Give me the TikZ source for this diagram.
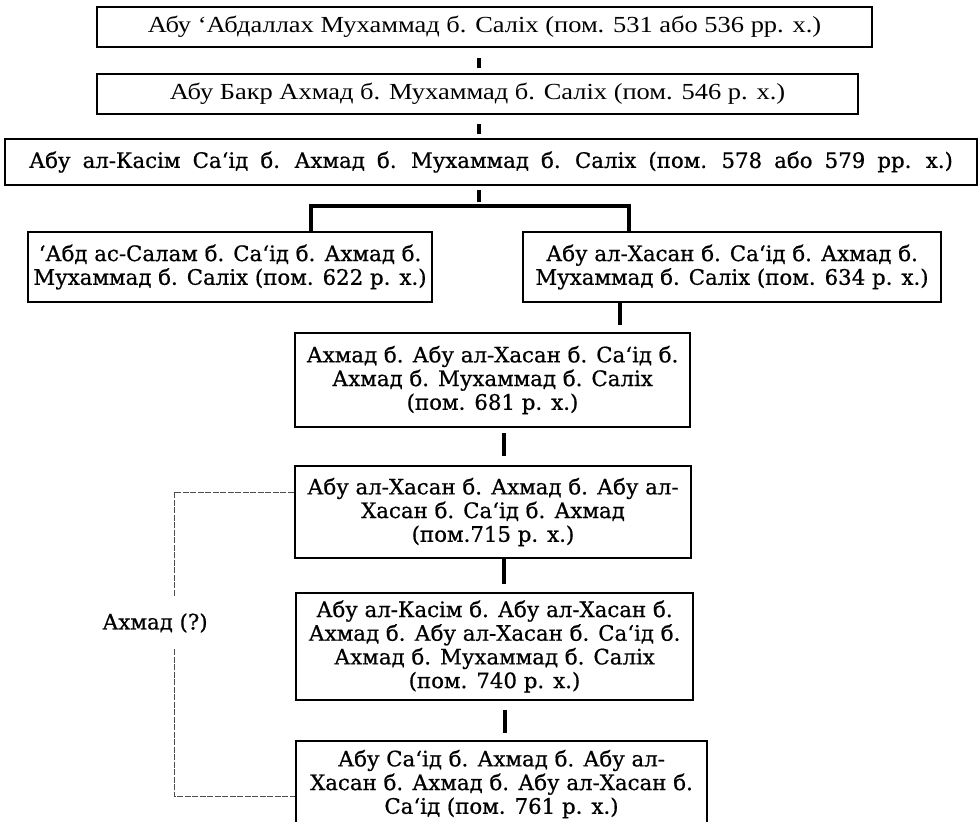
\documentclass[tikz,border=0pt]{standalone}
\usepackage{fontspec}
\setmainfont[FakeStretch=1.15]{Liberation Serif}
\newfontfamily\lowfont[FakeBold=0.7]{DejaVu Serif}
\newcommand\widespaces{\spaceskip=12.1pt\relax}

\begin{document}
\begin{tikzpicture}[x=1pt, y=-1pt,
    box/.style={draw, line width=2.5pt, inner sep=0pt, align=center},
    topfont/.style={font=\fontsize{23}{27}\selectfont},
    lowfont/.style={font=\lowfont\fontsize{21.3}{23.7}\selectfont},
    link/.style={line width=3.6pt},
    guess/.style={line width=0.9pt, gray!60!black, dash pattern=on 6pt off 1.5pt}]
    \useasboundingbox (0,0) rectangle (980,822);

    % first generations (one line each)
    \node[box, topfont, minimum width=775pt, minimum height=40pt] (abdallah) at (484.5,27)
        {Абу ‘Абдаллах Мухаммад б. Саліх (пом. 531 або 536 рр. х.)};
    \node[box, topfont, minimum width=761pt, minimum height=40pt] (abubakr) at (477.5,94)
        {Абу Бакр Ахмад б. Мухаммад б. Саліх (пом. 546 р. х.)};
    \node[box, lowfont, minimum width=972pt, minimum height=46pt] (qasim) at (491,162)
        {\widespaces Абу ал-Касім Са‘ід б. Ахмад б. Мухаммад б. Саліх (пом. 578 або 579 рр. х.)};

    % two sons
    \node[box, lowfont, minimum width=404pt, minimum height=70pt] (salam) at (230,267)
        {‘Абд ас-Салам б. Са‘ід б. Ахмад б.\\Мухаммад б. Саліх (пом. 622 р. х.)};
    \node[box, lowfont, minimum width=418pt, minimum height=70pt] (hasan) at (732,267)
        {Абу ал-Хасан б. Са‘ід б. Ахмад б.\\Мухаммад б. Саліх (пом. 634 р. х.)};

    % later line
    \node[box, lowfont, minimum width=395pt, minimum height=94pt] (ahmad) at (492.5,380)
        {Ахмад б. Абу ал-Хасан б. Са‘ід б.\\Ахмад б. Мухаммад б. Саліх\\(пом. 681 р. х.)};
    \node[box, lowfont, minimum width=396pt, minimum height=92pt] (hasantwo) at (493,512)
        {Абу ал-Хасан б. Ахмад б. Абу ал-\\Хасан б. Са‘ід б. Ахмад\\(пом.715 р. х.)};
    \node[box, lowfont, minimum width=397pt, minimum height=107pt] (qasimtwo) at (494.5,646.5)
        {Абу ал-Касім б. Абу ал-Хасан б.\\Ахмад б. Абу ал-Хасан б. Са‘ід б.\\Ахмад б. Мухаммад б. Саліх\\(пом. 740 р. х.)};
    \node[box, lowfont, minimum width=411pt, minimum height=86pt] (abusaid) at (501.5,784)
        {Абу Са‘ід б. Ахмад б. Абу ал-\\Хасан б. Ахмад б. Абу ал-Хасан б.\\Са‘ід (пом. 761 р. х.)};

    % doubtful link
    \node[lowfont, inner sep=0pt, minimum height=52pt] (guessname) at (155,623) {Ахмад (?)};

    % connectors
    \draw[link, shorten <=10pt, shorten >=5pt] ([xshift=-5.5pt]abdallah.south) -- ([xshift=-5.5pt]abdallah.south |- abubakr.north);
    \draw[link, shorten <=9pt, shorten >=4pt] ([xshift=1.5pt]abubakr.south) -- ([xshift=1.5pt]abubakr.south |- qasim.north);
    \coordinate (fork) at (479,206);
    \draw[link, shorten <=4pt, shorten >=4pt] (qasim.south -| fork) -- (fork);
    \draw[link] ([xshift=81pt]salam.north) |- (fork) -| ([xshift=-103pt]hasan.north);
    \draw[link, shorten >=7pt] ([xshift=-112pt]hasan.south) -- ([xshift=-112pt]hasan.south |- ahmad.north);
    \draw[link, shorten <=5pt, shorten >=9pt] ([xshift=11.5pt]ahmad.south) -- ([xshift=11.5pt]ahmad.south |- hasantwo.north);
    \draw[link, shorten >=8pt] ([xshift=11pt]hasantwo.south) -- ([xshift=11pt]hasantwo.south |- qasimtwo.north);
    \draw[link, shorten <=9pt, shorten >=7pt] ([xshift=10.5pt]qasimtwo.south) -- ([xshift=10.5pt]qasimtwo.south |- abusaid.north);

    \draw[guess] ([yshift=20pt]hasantwo.west) -| ([xshift=19pt]guessname.north);
    \draw[guess] ([xshift=19pt]guessname.south) |- ([yshift=-12pt]abusaid.west);
\end{tikzpicture}
\end{document}
